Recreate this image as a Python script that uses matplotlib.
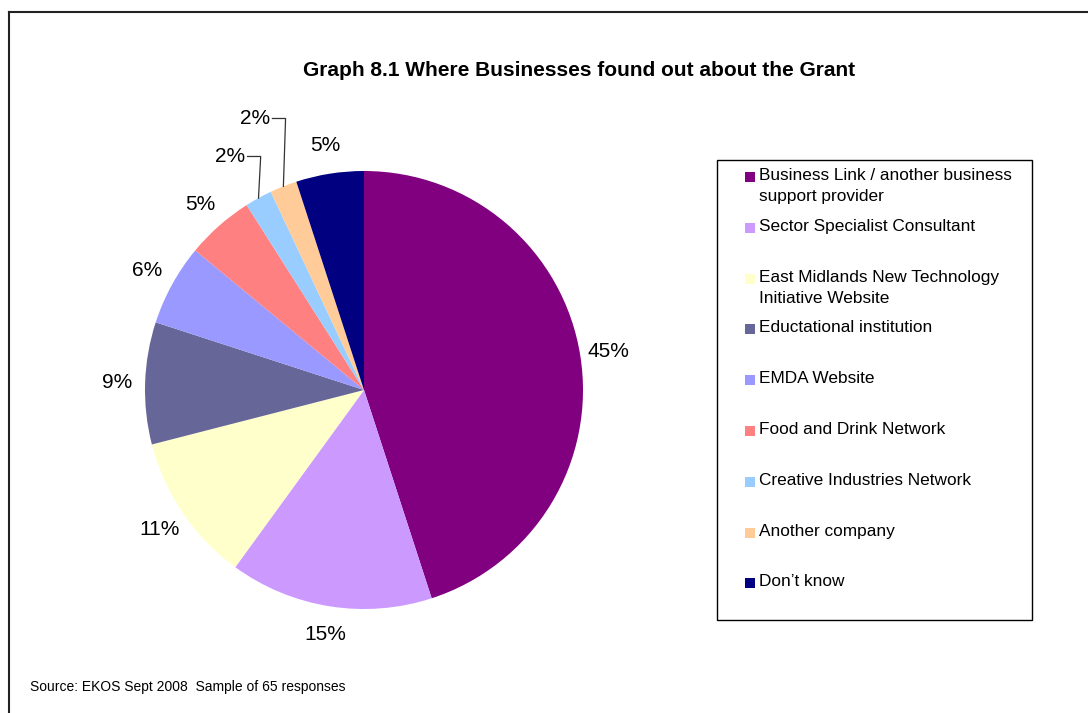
import numpy as np
import matplotlib
matplotlib.use('Agg')
import matplotlib.pyplot as plt
from matplotlib.patches import Rectangle
from matplotlib.lines import Line2D

plt.rcParams['font.family'] = ['Liberation Sans', 'DejaVu Sans']

FUENTES = ['Business Link / another business\nsupport provider',
           'Sector Specialist Consultant',
           'East Midlands New Technology\nInitiative Website',
           'Eductational institution',
           'EMDA Website',
           'Food and Drink Network',
           'Creative Industries Network',
           'Another company',
           "Don\u2019t know"]
PORCENTAJES = [45, 15, 11, 9, 6, 5, 2, 2, 5]
COLORES = ['#800080', '#CC99FF', '#FFFFCC', '#666699', '#9999FF',
           '#FF8080', '#99CCFF', '#FFCC99', '#000080']

W, H = 1088, 713
fig = plt.figure(figsize=(W / 100, H / 100), dpi=100)

# marco exterior
fig.add_artist(Line2D([8.5 / W, 8.5 / W], [0, 1 - 12 / H], color='#222222', lw=1.5))
fig.add_artist(Line2D([8.5 / W, 1], [1 - 12 / H, 1 - 12 / H], color='#222222', lw=1.5))

# torta: centro (364, 390), radio 219 px
cx, cy, r = 364, 390, 219
ax = fig.add_axes([(cx - r) / W, 1 - (cy + r) / H, 2 * r / W, 2 * r / H])
ax.axis('off')

cunas, _ = ax.pie(PORCENTAJES, colors=COLORES, startangle=90, counterclock=False,
                  radius=1, wedgeprops=dict(linewidth=0))
ax.set_xlim(-1, 1)
ax.set_ylim(-1, 1)

# etiquetas; las dos de 2% llevan línea guía
guia = {6: 0.19, 7: 0.31}
for i, (cuna, p) in enumerate(zip(cunas, PORCENTAJES)):
    ang = np.deg2rad((cuna.theta1 + cuna.theta2) / 2)
    x, y = np.cos(ang), np.sin(ang)
    if i in guia:
        xc, yc = x + 0.01, y + guia[i]
        xe = xc - 0.06
        ax.plot([x, xc, xe], [y, yc, yc], color='#333333', lw=0.9, clip_on=False)
        ax.text(xe - 0.012, yc, '%d%%' % p, ha='right', va='center', fontsize=15)
    else:
        d = 1.13
        ax.text(x * d, y * d, '%d%%' % p, ha='center', va='center', fontsize=15)

fig.text(579.5 / W, 1 - 70 / H, 'Graph 8.1 Where Businesses found out about the Grant',
         ha='center', va='center', fontsize=15, fontweight='bold')

# leyenda
fig.add_artist(Rectangle((717 / W, 1 - 620 / H), (1032 - 717) / W, (620 - 160) / H,
                         fill=False, edgecolor='black', lw=1.0))
for i, (nombre, color) in enumerate(zip(FUENTES, COLORES)):
    yy = 176 + i * 50.8
    fig.add_artist(Rectangle((745 / W, 1 - (yy + 6) / H), 10 / W, 10 / H,
                             facecolor=color, edgecolor='none'))
    fig.text(759 / W, 1 - (yy - 8) / H, nombre, ha='left', va='top',
             fontsize=12.4, linespacing=1.5)

fig.text(30 / W, 1 - 687 / H, 'Source: EKOS Sept 2008  Sample of 65 responses',
         ha='left', va='center', fontsize=10)

fig.savefig('out.png', dpi=100, facecolor='white')
